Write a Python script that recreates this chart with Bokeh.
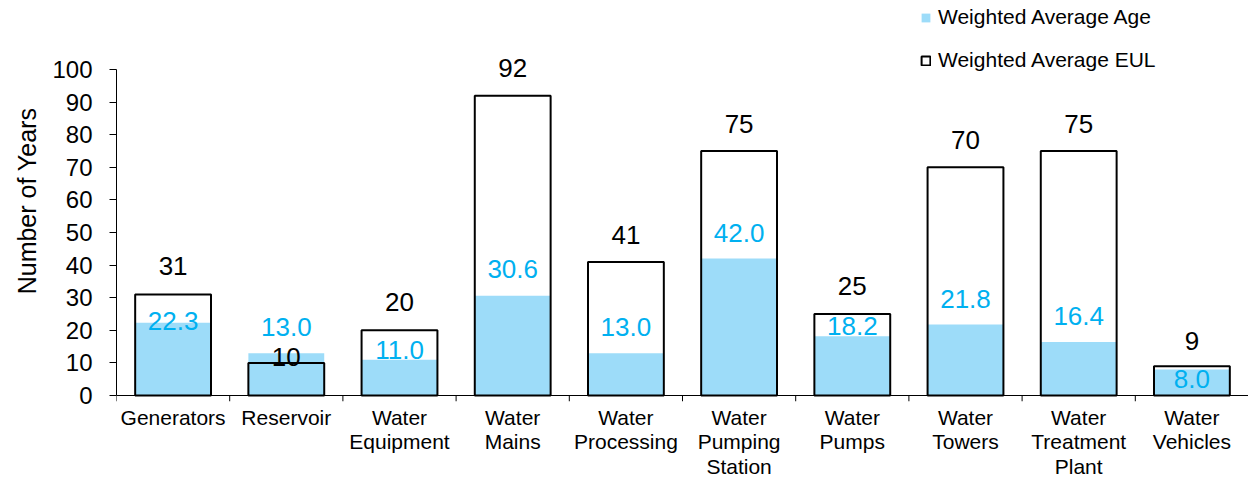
from bokeh.plotting import figure
from bokeh.models import (FactorRange, Range1d, FixedTicker, Span,
                          ColumnDataSource, Legend, LegendItem)
from bokeh.core.properties import value
from bokeh.embed import file_html
from bokeh.resources import INLINE

# Asset categories (multi-line labels)
categories = ["Generators", "Reservoir", "Water\nEquipment", "Water\nMains",
              "Water\nProcessing", "Water\nPumping\nStation", "Water\nPumps",
              "Water\nTowers", "Water\nTreatment\nPlant", "Water\nVehicles"]
avg_age = [22.3, 13.0, 11.0, 30.6, 13.0, 42.0, 18.2, 21.8, 16.4, 8.0]
avg_eul = [31, 10, 20, 92, 41, 75, 25, 70, 75, 9]
y_ticks = [0, 10, 20, 30, 40, 50, 60, 70, 80, 90, 100]

# label nudges in screen pixels relative to the bar top (negative = up)
age_label_shift = [-2, -26, -10, -27, -26, -26, -10, -25, -26, 10]
eul_label_shift = [-28, -6, -28, -28, -27, -27, -28, -27, -27, -25]

FONT = "Liberation Sans"
AGE_FILL = "#9DDCF9"
AGE_TEXT = "#00B0F0"

Y_TOP = 121.2
TICK_DEPTH = 1.84   # room below zero for the category separator ticks

p = figure(frame_width=1132, frame_height=401,
           x_range=FactorRange(*categories, range_padding=0),
           y_range=Range1d(-TICK_DEPTH, Y_TOP),
           output_backend="svg", toolbar_location=None,
           min_border_left=116, min_border_right=0, min_border_top=0, min_border_bottom=0,
           background_fill_color="white", border_fill_color="white")
p.outline_line_color = None
p.xgrid.visible = False
p.ygrid.visible = False

src = ColumnDataSource(dict(
    cat=categories, age=avg_age, eul=avg_eul,
    age_txt=[f"{v:.1f}" for v in avg_age],
    eul_txt=[f"{v:d}" for v in avg_eul],
    age_dy=age_label_shift, eul_dy=eul_label_shift,
))

age_r = p.vbar(x="cat", top="age", bottom=0, width=0.67, source=src,
               fill_color=AGE_FILL, line_color=None)
eul_r = p.vbar(x="cat", top="eul", bottom=0, width=0.67, source=src,
               fill_color=None, line_color="black", line_width=2)

# baseline and separator ticks between categories
p.add_layout(Span(location=0, dimension="width", line_color="black", line_width=1))
edges = [(c, -0.5) for c in categories] + [(categories[-1], 0.5)]
p.segment(x0=edges, y0=[0] * len(edges), x1=edges, y1=[-TICK_DEPTH] * len(edges),
          line_color="black", line_width=1)

p.text(x="cat", y="eul", text="eul_txt", y_offset="eul_dy", source=src,
       text_align="center", text_baseline="middle",
       text_font=value(FONT), text_font_size="26px", text_color="black")
p.text(x="cat", y="age", text="age_txt", y_offset="age_dy", source=src,
       text_align="center", text_baseline="middle",
       text_font=value(FONT), text_font_size="26px", text_color=AGE_TEXT)

# y axis
yax = p.yaxis[0]
yax.ticker = FixedTicker(ticks=y_ticks)
yax.bounds = (0, 100)
yax.major_tick_out = 7
yax.major_tick_in = 0
yax.minor_tick_line_color = None
yax.axis_line_color = "black"
yax.major_tick_line_color = "black"
yax.major_label_text_font = FONT
yax.major_label_text_font_size = "24px"
yax.major_label_text_color = "black"
yax.major_label_standoff = 17
yax.axis_label = "Number of Years"
yax.axis_label_text_font = FONT
yax.axis_label_text_font_size = "25px"
yax.axis_label_text_font_style = "normal"
yax.axis_label_text_color = "black"
yax.axis_label_standoff = 8

# category labels
xax = p.xaxis[0]
xax.axis_line_color = None
xax.major_tick_line_color = None
xax.major_tick_out = 0
xax.major_tick_in = 0
xax.minor_tick_line_color = None
xax.major_label_text_font = FONT
xax.major_label_text_font_size = "21px"
xax.major_label_text_line_height = 1.07
xax.major_label_text_color = "black"
xax.major_label_standoff = 4

legend = Legend(items=[LegendItem(label="Weighted Average Age", renderers=[age_r]),
                       LegendItem(label="Weighted Average EUL", renderers=[eul_r])],
                location=(804, 329), orientation="vertical",
                glyph_width=11, glyph_height=11, label_standoff=7,
                label_text_font=FONT, label_text_font_size="21px",
                label_text_color="black",
                label_height=24, spacing=19, padding=0, margin=0,
                border_line_color=None, background_fill_alpha=0)
p.add_layout(legend)

open("out.html", "w").write(file_html(p, INLINE))
